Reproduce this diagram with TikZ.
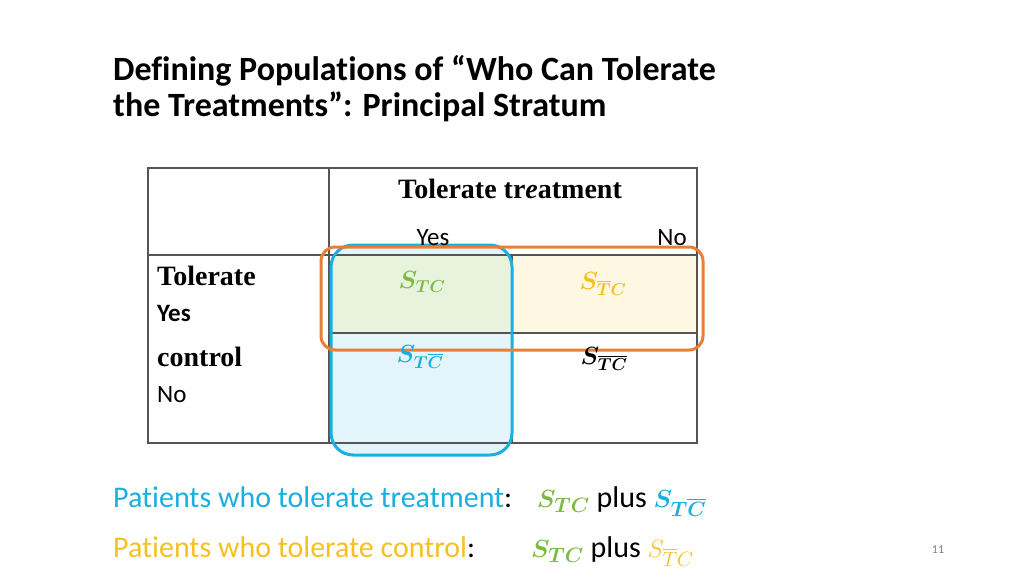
\documentclass[tikz,border=0pt]{standalone}
\usepackage{amsmath,bm}
\usepackage{fontspec}
\setmainfont[Ligatures=NoCommon]{Carlito}
\newfontfamily\serifb{Liberation Serif}
\definecolor{cblue}{HTML}{1AAFE0}
\definecolor{cgreen}{HTML}{7DBA45}
\definecolor{cyel}{HTML}{F6C021}
\definecolor{corange}{HTML}{E97F35}
\definecolor{grid}{HTML}{555555}
\begin{document}
\begin{tikzpicture}[x=1pt,y=-1pt,
  tl/.style={anchor=base west,inner sep=0pt},
  gl/.style={draw=grid,line width=1.2pt}]
\useasboundingbox (0,0) rectangle (1024,576);
% fills
\fill[cblue!12,rounded corners=22pt] (331,245) rectangle (512,455);
\fill[cgreen!18] (331,256) rectangle (512,333);
\fill[cyel!13] (512,256) rectangle (697,333);
% grid
\draw[gl] (148,168) rectangle (697,443);
\draw[gl] (329,168) -- (329,443);
\draw[gl] (512,255) -- (512,443);
\draw[gl] (148,255) -- (697,255);
\draw[gl] (329,333) -- (697,333);
% outlines
\draw[cblue,line width=3pt,rounded corners=22pt] (331,245) rectangle (512,455);
\draw[corange,line width=3pt,rounded corners=14pt] (321,247) rectangle (703,350);
% title
\node[tl,font=\fontsize{34}{40}\selectfont\bfseries] (t1) at (113,80) {Defining Populations of “Who Can Tolerate};
\node[tl,font=\fontsize{34}{40}\selectfont\bfseries] (t2) at (113,116) {the Treatments”: Principal Stratum};
% header
\node[anchor=base,inner sep=0pt,font=\fontsize{28}{32}\selectfont\serifb\bfseries] (h) at (510,198) {Tolerate tr\textit{e}atment};
\node[anchor=base,inner sep=0pt,font=\fontsize{25}{28}\selectfont] (y) at (433,245) {Yes};
\node[anchor=base,inner sep=0pt,font=\fontsize{25}{28}\selectfont] (n) at (672,245) {No};
\node[tl,font=\fontsize{28}{32}\selectfont\serifb\bfseries] (r1) at (157,285) {Tolerate};
\node[tl,font=\fontsize{25}{28}\selectfont\bfseries] (r2) at (157,321) {Yes};
\node[tl,font=\fontsize{28}{32}\selectfont\serifb\bfseries] (r3) at (157,366) {control};
\node[tl,font=\fontsize{25}{28}\selectfont] (r4) at (157,402) {No};
% cells
\node[font=\fontsize{26}{30}\selectfont,text=cgreen] (c1) at (422,282) {$\bm{S_{TC}}$};
\node[font=\fontsize{26}{30}\selectfont,text=cyel] (c2) at (603,284) {$\bm{S_{\overline{T}C}}$};
\node[font=\fontsize{26}{30}\selectfont,text=cblue] (c3) at (420,357) {$\bm{S_{T\overline{C}}}$};
\node[font=\fontsize{26}{30}\selectfont] (c4) at (604,359) {$\bm{S_{\overline{TC}}}$};
% bottom
\node[tl,font=\fontsize{30}{34}\selectfont,text=cblue] (b1) at (113,507) {Patients who tolerate treatment\textcolor{black}{:}};
\node[tl,font=\fontsize{30}{34}\selectfont] (b2) at (537,507) {\textcolor{cgreen}{$\bm{S_{TC}}$} plus \textcolor{cblue}{$\bm{S_{T\overline{C}}}$}};
\node[tl,font=\fontsize{30}{34}\selectfont,text=cyel] (b3) at (113,557) {Patients who tolerate control\textcolor{black}{:}};
\node[tl,font=\fontsize{30}{34}\selectfont] (b4) at (531,557) {\textcolor{cgreen}{$\bm{S_{TC}}$} plus \textcolor{cyel}{$S_{\overline{T}C}$}};
\node[font=\fontsize{12}{14}\selectfont,text=gray] (pg) at (938,550) {11};
\end{tikzpicture}
\end{document}
